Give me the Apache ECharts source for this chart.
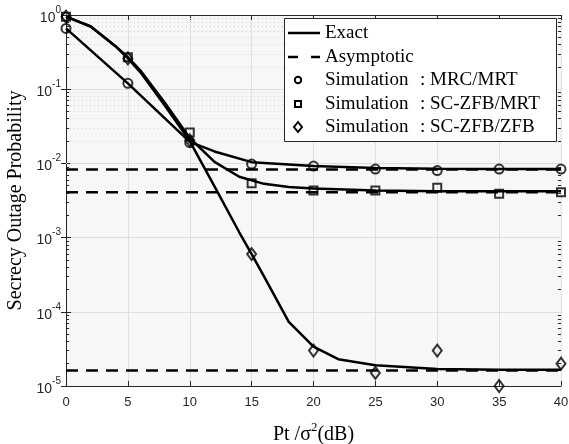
<!DOCTYPE html>
<html><head><meta charset="utf-8">
<script src="https://cdn.jsdelivr.net/npm/echarts@6/dist/echarts.min.js"></script>
<style>html,body{margin:0;padding:0;background:#fff}#c{width:569px;height:444px}</style>
</head><body><div id="c"></div>
<script>
// ---- data ----
const xTicks = [0, 5, 10, 15, 20, 25, 30, 35, 40];
const exactMRC_x = [0, 5, 10, 12, 15, 20, 25, 30, 35, 40];
const exactMRC_y = [0.66, 0.12, 0.0195, 0.0145, 0.0104, 0.0092, 0.0087, 0.0085, 0.0084, 0.0084];
const exactMRT_x = [0, 2, 4, 5, 6, 8, 10, 12, 14, 16, 18, 20, 25, 30, 35, 40];
const exactMRT_y = [0.95, 0.70, 0.38, 0.27, 0.18, 0.065, 0.022, 0.0105, 0.0066, 0.0053, 0.0048, 0.0046, 0.0043, 0.0042, 0.0042, 0.0042];
const exactZFB_x = [0, 2, 4, 5, 6, 8, 10, 12, 14, 15, 16, 17, 18, 20, 22, 25, 30, 35, 40];
const exactZFB_y = [0.95, 0.70, 0.38, 0.26, 0.17, 0.06, 0.02, 0.0049, 0.00118, 0.0006, 0.0003, 0.000148, 0.000073, 0.000034, 0.000023, 0.0000190, 0.0000170, 0.0000166, 0.0000165];
const asymX = [0, 40];
const asymMRC = 0.0083;
const asymMRT = 0.0041;
const asymZFB = 0.0000162;
const simX = [0, 5, 10, 15, 20, 25, 30, 35, 40];
const simMRC = [0.66, 0.12, 0.019, 0.0098, 0.0092, 0.0084, 0.0080, 0.0084, 0.0084];
const simMRT = [0.95, 0.27, 0.026, 0.0054, 0.0043, 0.0043, 0.0047, 0.0039, 0.0041];
const simZFB = [0.95, 0.26, 0.0205, 0.0006, 0.000030, 0.000015, 0.000030, 0.000010, 0.000020];
const legendNames = ['Exact', 'Asymptotic', 'Simulation', 'Simulation', 'Simulation'];
const legendSuffix = ['', '', ': MRC/MRT', ': SC-ZFB/MRT', ': SC-ZFB/ZFB'];

const zip = (xs, ys) => xs.map((x, i) => [x, ys[i]]);
const minorVals = [];
for (let e = -5; e < 0; e++) for (let m = 2; m <= 9; m++) minorVals.push(m * Math.pow(10, e));

const chart = echarts.init(document.getElementById('c'), null, {renderer: 'canvas'});
const black = '#000';
const lineW = 2.5;
const serifFont = '"Liberation Serif", "Times New Roman", serif';
const sansFont = '"Liberation Sans", Arial, sans-serif';

const axisLabelY = {
  fontFamily: sansFont, fontSize: 13, color: '#262626', margin: 5,
  formatter: v => '{b|10}{s|' + Math.round(Math.log10(v)) + '}',
  rich: {
    b: {fontFamily: sansFont, fontSize: 14, color: '#262626', lineHeight: 20, verticalAlign: 'bottom'},
    s: {fontFamily: sansFont, fontSize: 10, color: '#262626', lineHeight: 20, verticalAlign: 'top'}
  }
};

// ---- legend built as graphic (box, samples, texts) ----
const lgLeft = 284, lgTop = 18, lgW = 272, lgH = 123;
const rowY = [33, 57, 80, 104, 127];
const legendGraphic = [
  {type: 'rect', shape: {x: lgLeft + 0.5, y: lgTop + 0.5, width: lgW, height: lgH}, style: {fill: '#fff', stroke: '#262626', lineWidth: 1}, z: 100},
  {type: 'line', shape: {x1: 288, y1: rowY[0], x2: 320, y2: rowY[0]}, style: {stroke: black, lineWidth: lineW}, z: 101},
  {type: 'line', shape: {x1: 288, y1: rowY[1], x2: 298, y2: rowY[1]}, style: {stroke: black, lineWidth: lineW}, z: 101},
  {type: 'line', shape: {x1: 311, y1: rowY[1], x2: 320, y2: rowY[1]}, style: {stroke: black, lineWidth: lineW}, z: 101},
  {type: 'circle', shape: {cx: 298, cy: rowY[2], r: 3.2}, style: {fill: 'none', stroke: black, lineWidth: 2}, z: 101},
  {type: 'rect', shape: {x: 295, y: rowY[3] - 3, width: 6, height: 6}, style: {fill: 'none', stroke: black, lineWidth: 2}, z: 101},
  {type: 'polygon', shape: {points: [[298, rowY[4] - 5], [302, rowY[4]], [298, rowY[4] + 5], [294, rowY[4]]]}, style: {fill: 'none', stroke: black, lineWidth: 2}, z: 101}
];
legendNames.forEach((n, i) => {
  legendGraphic.push({type: 'text', x: 325, y: rowY[i], style: {text: n, font: '19px ' + serifFont, fill: black, textVerticalAlign: 'middle', verticalAlign: 'middle'}, z: 101});
  if (legendSuffix[i]) legendGraphic.push({type: 'text', x: 420, y: rowY[i], style: {text: legendSuffix[i], font: '19px ' + serifFont, fill: black, textVerticalAlign: 'middle', verticalAlign: 'middle'}, z: 101});
});

const option = {
  animation: false,
  backgroundColor: '#fff',
  grid: {left: 66, top: 15, right: 8, bottom: 58, show: true, backgroundColor: '#f7f7f7', borderWidth: 0, containLabel: false, outerBoundsMode: 'none'},
  xAxis: [{
    type: 'value', min: 0, max: 40, interval: 5,
    axisLine: {show: true, onZero: false, lineStyle: {color: '#262626', width: 1}},
    axisTick: {show: true, inside: true, length: 5, lineStyle: {color: '#262626'}},
    axisLabel: {fontFamily: sansFont, fontSize: 13, color: '#262626', margin: 10},
    splitLine: {show: true, lineStyle: {color: '#dedede', width: 1}},
    name: '{a|Pt /σ}{s|2}{a|(dB)}', nameLocation: 'middle', nameGap: 35,
    nameTextStyle: {
      rich: {
        a: {fontFamily: serifFont, fontSize: 20, color: '#000', lineHeight: 24, verticalAlign: 'bottom'},
        s: {fontFamily: serifFont, fontSize: 13, color: '#000', lineHeight: 24, verticalAlign: 'top'}
      }
    }
  }, {
    type: 'value', min: 0, max: 40, interval: 5, position: 'top',
    axisLine: {show: true, lineStyle: {color: '#262626', width: 1}},
    axisTick: {show: true, inside: true, length: 5, lineStyle: {color: '#262626'}},
    axisLabel: {show: false}, splitLine: {show: false}
  }],
  yAxis: [{
    type: 'log', logBase: 10, min: 1e-5, max: 1,
    axisLine: {show: true, onZero: false, lineStyle: {color: '#262626', width: 1}},
    axisTick: {show: true, inside: true, length: 5, lineStyle: {color: '#262626'}},
    axisLabel: axisLabelY,
    splitLine: {show: true, lineStyle: {color: '#dedede', width: 1}},
    name: 'Secrecy Outage Probability', nameLocation: 'middle', nameGap: 37,
    nameTextStyle: {fontFamily: serifFont, fontSize: 20, color: '#000'}
  }, {
    type: 'log', logBase: 10, min: 1e-5, max: 1, position: 'right',
    axisLine: {show: true, lineStyle: {color: '#262626', width: 1}},
    axisTick: {show: true, inside: true, length: 5, lineStyle: {color: '#262626'}},
    axisLabel: {show: false}, splitLine: {show: false}
  }],
  graphic: legendGraphic,
  series: [
    {
      name: 'grid-minor', type: 'line', data: [], silent: true,
      markLine: {
        silent: true, symbol: 'none', label: {show: false},
        lineStyle: {color: '#d0d0d0', type: [1, 3], width: 1},
        data: minorVals.map(v => ({yAxis: v}))
      }
    },
    {
      name: 'minor-ticks', type: 'line', data: [], silent: true,
      markLine: {
        silent: true, symbol: 'none', label: {show: false},
        lineStyle: {color: '#262626', type: 'solid', width: 1},
        data: minorVals.flatMap(v => [[{coord: [0, v]}, {coord: [0.25, v]}], [{coord: [39.75, v]}, {coord: [40, v]}]])
      }
    },
    {name: 'Exact', type: 'line', data: zip(exactMRC_x, exactMRC_y), symbol: 'none', lineStyle: {color: black, width: lineW}, itemStyle: {color: black}, z: 5},
    {name: 'Exact', type: 'line', data: zip(exactMRT_x, exactMRT_y), symbol: 'none', lineStyle: {color: black, width: lineW}, itemStyle: {color: black}, z: 5},
    {name: 'Exact', type: 'line', data: zip(exactZFB_x, exactZFB_y), symbol: 'none', lineStyle: {color: black, width: lineW}, itemStyle: {color: black}, z: 5},
    {name: 'Asymptotic', type: 'line', data: asymX.map(x => [x, asymMRC]), symbol: 'none', lineStyle: {color: black, width: lineW, type: [12, 8]}, itemStyle: {color: black}, z: 4},
    {name: 'Asymptotic', type: 'line', data: asymX.map(x => [x, asymMRT]), symbol: 'none', lineStyle: {color: black, width: lineW, type: [12, 8]}, itemStyle: {color: black}, z: 4},
    {name: 'Asymptotic', type: 'line', data: asymX.map(x => [x, asymZFB]), symbol: 'none', lineStyle: {color: black, width: lineW, type: [12, 8]}, itemStyle: {color: black}, z: 4},
    {name: 'Simulation : MRC/MRT', type: 'scatter', data: zip(simX, simMRC), symbol: 'circle', symbolSize: 9, itemStyle: {color: 'rgba(0,0,0,0)', borderColor: black, borderWidth: 2}, z: 6},
    {name: 'Simulation : SC-ZFB/MRT', type: 'scatter', data: zip(simX, simMRT), symbol: 'rect', symbolSize: 8, itemStyle: {color: 'rgba(0,0,0,0)', borderColor: black, borderWidth: 2}, z: 6},
    {name: 'Simulation : SC-ZFB/ZFB', type: 'scatter', data: zip(simX, simZFB), symbol: 'diamond', symbolSize: [9, 12], itemStyle: {color: 'rgba(0,0,0,0)', borderColor: black, borderWidth: 2}, z: 6}
  ]
};
chart.setOption(option);
</script>
</body></html>
